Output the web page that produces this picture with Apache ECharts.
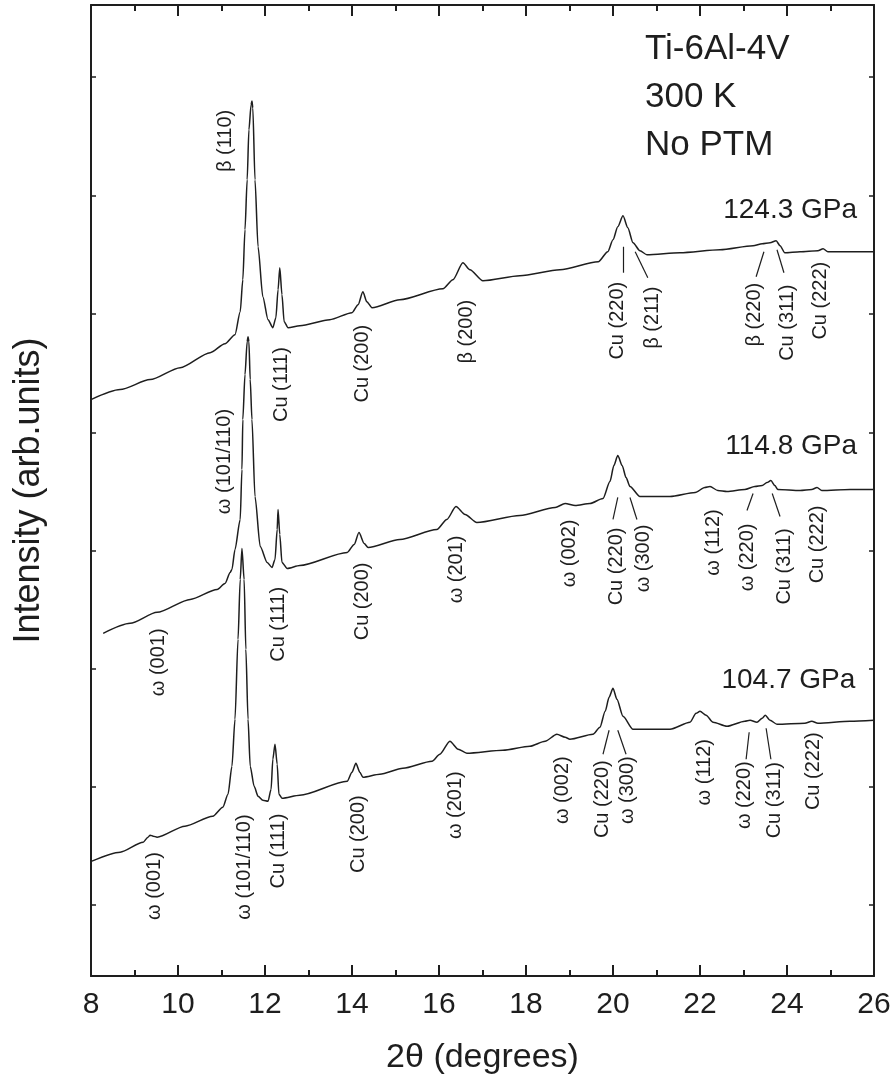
<!DOCTYPE html>
<html>
<head>
<meta charset="utf-8">
<script src="https://cdn.jsdelivr.net/npm/echarts@6/dist/echarts.min.js"></script>
<style>
html,body{margin:0;padding:0;background:#fff;}
#chart{width:894px;height:1080px;}
</style>
</head>
<body>
<div id="chart"></div>
<script>
// ---- Data (2θ in degrees, intensity in arb. units) ----
const xTicks = [8, 10, 12, 14, 16, 18, 20, 22, 24, 26];
const yTickValues = [71, 189, 308, 426, 544, 663, 781, 900];

const pattern124 = [
  [8.00,577],[8.67,587],[9.36,597],[10.05,609],[10.74,624],[11.08,633],[11.31,642],
  [11.43,665],[11.49,697],[11.54,747],[11.59,797],[11.63,847],[11.68,872],[11.70,876],
  [11.72,869],[11.77,797],[11.84,730],[11.95,680],[12.07,657],[12.18,649],[12.25,659],
  [12.30,687],[12.34,709],[12.39,682],[12.44,655],[12.53,649],[12.80,651],[13.49,657],
  [14.00,664],[14.14,672],[14.25,685],[14.34,675],[14.46,669],[15.10,677],[16.09,688],
  [16.32,697],[16.55,714],[16.71,707],[17.01,696],[17.86,701],[18.78,707],[19.66,715],
  [19.88,725],[20.00,737],[20.11,750],[20.23,761],[20.34,749],[20.46,734],[20.62,726],
  [20.78,722],[21.54,724],[22.46,727],[23.22,731],[23.43,733],[23.61,734],[23.75,736],
  [23.84,731],[23.95,724],[24.30,725],[24.71,726],[24.83,728],[24.94,725],[25.45,725],[26.00,725]
];
const pattern115 = [
  [8.28,343],[8.90,353],[9.52,364],[10.28,377],[10.90,387],[11.08,393],[11.20,404],
  [11.24,407],[11.31,427],[11.43,457],[11.47,507],[11.49,557],[11.54,602],[11.59,635],
  [11.61,640],[11.63,635],[11.66,597],[11.70,557],[11.77,480],[11.89,430],[12.05,414],
  [12.16,409],[12.23,417],[12.28,447],[12.30,467],[12.34,442],[12.39,414],[12.51,408],
  [12.80,411],[13.89,424],[14.05,432],[14.16,444],[14.28,433],[14.37,429],[15.10,437],
  [15.95,447],[16.18,457],[16.39,470],[16.60,462],[16.87,454],[17.86,461],[18.67,469],
  [18.90,473],[19.13,471],[19.47,473],[19.77,478],[19.93,495],[20.02,511],[20.11,521],
  [20.21,511],[20.30,499],[20.39,490],[20.62,480],[21.31,480],[21.89,484],[22.11,489],
  [22.23,490],[22.41,486],[22.62,485],[23.03,487],[23.26,490],[23.43,491],[23.54,494],
  [23.63,496],[23.72,491],[23.79,487],[24.30,486],[24.57,487],[24.69,489],[24.80,486],
  [25.45,487],[26.00,487]
];
const pattern105 = [
  [8.02,115],[8.67,124],[9.20,134],[9.31,139],[9.36,141],[9.43,140],[9.52,139],
  [10.16,150],[10.80,160],[11.03,169],[11.15,182],[11.24,210],[11.31,257],[11.38,337],
  [11.43,397],[11.47,428],[11.52,397],[11.56,327],[11.61,257],[11.66,210],[11.75,190],
  [11.84,180],[11.95,176],[12.07,175],[12.14,187],[12.18,217],[12.23,232],[12.28,212],
  [12.32,182],[12.39,178],[12.80,181],[13.89,195],[14.00,204],[14.09,213],[14.18,204],
  [14.25,199],[14.64,202],[15.17,208],[15.84,215],[16.02,222],[16.25,235],[16.44,227],
  [16.64,223],[17.47,226],[18.09,230],[18.44,235],[18.71,242],[18.90,239],[19.01,237],
  [19.54,242],[19.70,249],[19.82,265],[19.91,279],[20.00,288],[20.09,277],[20.23,260],
  [20.46,247],[21.31,247],[21.77,254],[21.91,263],[22.00,265],[22.14,261],[22.30,254],
  [22.62,250],[23.03,255],[23.15,256],[23.31,254],[23.43,258],[23.50,261],[23.61,256],
  [23.77,252],[24.41,253],[24.57,255],[24.71,253],[25.45,255],[26.00,256]
];

// peak labels: [2θ, intensity, text]
const labels124 = [
  [11.10,836,'β (110)'],[12.37,592,'Cu (111)'],[14.25,613,'Cu (200)'],[16.64,645,'β (200)'],
  [20.11,656,'Cu (220)'],[20.90,659,'β (211)'],[23.26,662,'β (220)'],[24.02,654,'Cu (311)'],
  [24.76,676,'Cu (222)']
];
const labels115 = [
  [11.08,515,'ω (101/110)'],[9.54,314,'ω (001)'],[12.30,352,'Cu (111)'],[14.23,375,'Cu (200)'],
  [16.41,407,'ω (201)'],[19.01,423,'ω (002)'],[20.09,410,'Cu (220)'],[20.69,418,'ω (300)'],
  [22.30,434,'ω (112)'],[23.10,419,'ω (220)'],[23.95,410,'Cu (311)'],[24.71,432,'Cu (222)']
];
const labels105 = [
  [9.47,90,'ω (001)'],[11.52,109,'ω (101/110)'],[12.30,125,'Cu (111)'],[14.14,142,'Cu (200)'],
  [16.39,171,'ω (201)'],[18.83,186,'ω (002)'],[19.75,177,'Cu (220)'],[20.34,186,'ω (300)'],
  [22.11,204,'ω (112)'],[23.03,181,'ω (220)'],[23.72,176,'Cu (311)'],[24.60,205,'Cu (222)']
];
// leader lines: [x1, y1, x2, y2]
const leaders124 = [[20.23,730,20.23,704],[20.51,725,20.80,699],[23.47,725,23.29,700],[23.77,727,23.93,704]];
const leaders115 = [[20.11,479,20.00,457],[20.39,479,20.55,457],[23.22,483,23.08,466],[23.66,483,23.84,460]];
const leaders105 = [[19.91,246,19.77,222],[20.11,246,20.30,222],[23.13,244,23.06,217],[23.52,248,23.63,217]];

// pressure labels: [2θ, intensity, text]
const pressureLabels = [[25.61,767,'124.3 GPa'],[25.61,530,'114.8 GPa'],[25.57,296,'104.7 GPa']];
const infoLines = ['Ti-6Al-4V', '300 K', 'No PTM'];

// ---- Chart ----
const INK = '#1e1e1e';
const FONT = '"Liberation Sans", Arial, sans-serif';
const chart = echarts.init(document.getElementById('chart'), null, {renderer: 'canvas'});

function curve(name, data, leaders) {
  return {
    name, type: 'line', data, symbol: 'none', smooth: 0.25, smoothMonotone: 'x', clip: true,
    lineStyle: {color: INK, width: 1.5},
    markLine: {
      silent: true, symbol: 'none', animation: false,
      label: {show: false},
      lineStyle: {color: INK, width: 1.2, type: 'solid'},
      data: leaders.map(l => [{coord: [l[0], l[1]]}, {coord: [l[2], l[3]]}])
    }
  };
}
function labelSeries(data, size, rotate, align) {
  return {
    type: 'scatter', data, symbolSize: 1, silent: true,
    itemStyle: {color: 'rgba(0,0,0,0)', opacity: 1},
    label: {
      show: true, position: 'inside', rotate: rotate, opacity: 1,
      formatter: p => p.value[2],
      fontSize: size, fontFamily: FONT, color: INK,
      align: align, verticalAlign: 'middle'
    }
  };
}

const xCommon = {
  type: 'value', min: 8, max: 26, interval: 2,
  axisLine: {show: true, onZero: false, lineStyle: {color: INK, width: 2}},
  axisTick: {show: true, inside: true, length: 11, lineStyle: {color: INK, width: 2}},
  minorTick: {show: true, splitNumber: 2, length: 6, lineStyle: {color: INK, width: 2}},
  splitLine: {show: false}, minorSplitLine: {show: false}
};
const yCommon = {
  type: 'value', min: 0, max: 972,
  axisLine: {show: true, onZero: false, lineStyle: {color: INK, width: 2}},
  axisTick: {show: true, inside: true, length: 5, customValues: yTickValues, lineStyle: {color: INK, width: 1.5}},
  axisLabel: {show: false},
  splitLine: {show: false}
};

chart.setOption({
  animation: false,
  backgroundColor: '#fff',
  grid: {left: 91, right: 20, top: 5, bottom: 103},
  xAxis: [
    Object.assign({}, xCommon, {
      position: 'bottom',
      axisLabel: {show: true, fontSize: 30, fontFamily: FONT, color: INK, margin: 14,
        customValues: xTicks},
      name: '2θ (degrees)', nameLocation: 'middle', nameGap: 65,
      nameTextStyle: {fontSize: 34, fontFamily: FONT, color: INK}
    }),
    Object.assign({}, xCommon, {position: 'top', axisLabel: {show: false}})
  ],
  yAxis: [
    Object.assign({}, yCommon, {
      position: 'left',
      name: 'Intensity (arb.units)', nameLocation: 'middle', nameGap: 44,
      nameTextStyle: {fontSize: 36, fontFamily: FONT, color: INK}
    }),
    Object.assign({}, yCommon, {position: 'right'})
  ],
  graphic: infoLines.map((t, i) => ({
    type: 'text', left: 645, top: 32 + i * 48,
    style: {text: t, fontSize: 35, fontFamily: FONT, fill: INK}
  })),
  series: [
    curve('124.3 GPa', pattern124, leaders124),
    curve('114.8 GPa', pattern115, leaders115),
    curve('104.7 GPa', pattern105, leaders105),
    labelSeries(labels124.concat(labels115, labels105), 20, 90, 'center'),
    labelSeries(pressureLabels, 28, 0, 'right')
  ]
});
</script>
</body>
</html>
